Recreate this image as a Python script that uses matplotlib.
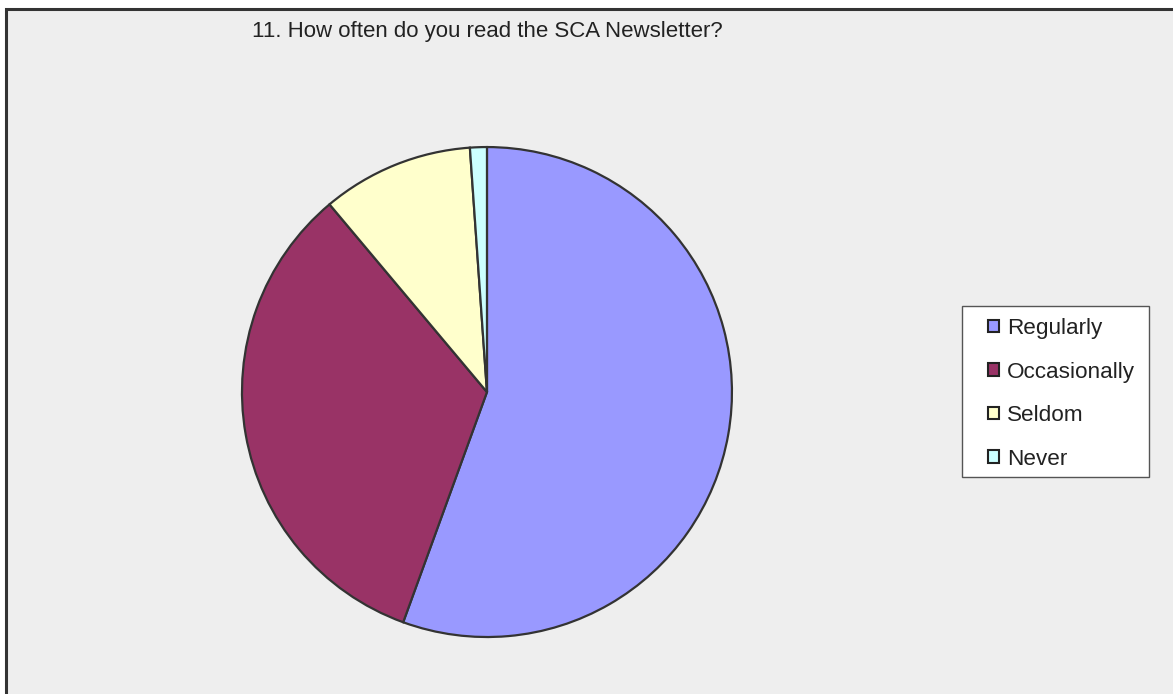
import matplotlib
matplotlib.use("Agg")
import matplotlib.pyplot as plt
from matplotlib.patches import Rectangle, Patch

# survey responses
labels = ["Regularly", "Occasionally", "Seldom", "Never"]
counts = [50, 30, 9, 1]
colors = ["#9999FF", "#993366", "#FFFFCC", "#CCFFFF"]

plt.rcParams['font.family'] = ['Liberation Sans', 'DejaVu Sans']

W, H = 1173, 694
fig = plt.figure(figsize=(W / 100, H / 100), dpi=100)
fig.patch.set_facecolor("white")

# grey chart area with dark border (runs off right/bottom edge)
frame = Rectangle((6 / W, -0.05), 1.2, 1 - 9 / H + 0.05,
                  transform=fig.transFigure, facecolor="#EEEEEE",
                  edgecolor="#333333", linewidth=2.2, zorder=-5)
fig.patches.append(frame)

ax = fig.add_axes([0.2063, 0.0821, 0.4177, 0.706], zorder=2)
ax.pie(counts, colors=colors, startangle=90, counterclock=False,
       wedgeprops=dict(edgecolor="#333333", linewidth=1.6))
ax.set_aspect("equal")
ax.set_xlim(-1, 1)
ax.set_ylim(-1, 1)

fig.text(487 / W, 1 - 31 / H, "11. How often do you read the SCA Newsletter?",
         ha="center", va="center", fontsize=16, color="#222222")

# legend box
box = Rectangle((962 / W, 1 - 477 / H), (1149 - 962) / W, (477 - 306) / H,
                transform=fig.transFigure, facecolor="white",
                edgecolor="#555555", linewidth=1.0, zorder=1)
fig.patches.append(box)

handles = [Patch(facecolor=c, edgecolor="#222222", linewidth=1.5) for c in colors]
leg = fig.legend(handles, labels, loc="upper left",
                 bbox_to_anchor=(988 / W, 1 - 318 / H),
                 fontsize=16.2, frameon=False,
                 handlelength=0.48, handleheight=0.48, handletextpad=0.35,
                 labelspacing=1.0, borderpad=0, borderaxespad=0)
leg.set_zorder(3)
for t in leg.get_texts():
    t.set_color("#222222")

plt.savefig("out.png", dpi=100)
